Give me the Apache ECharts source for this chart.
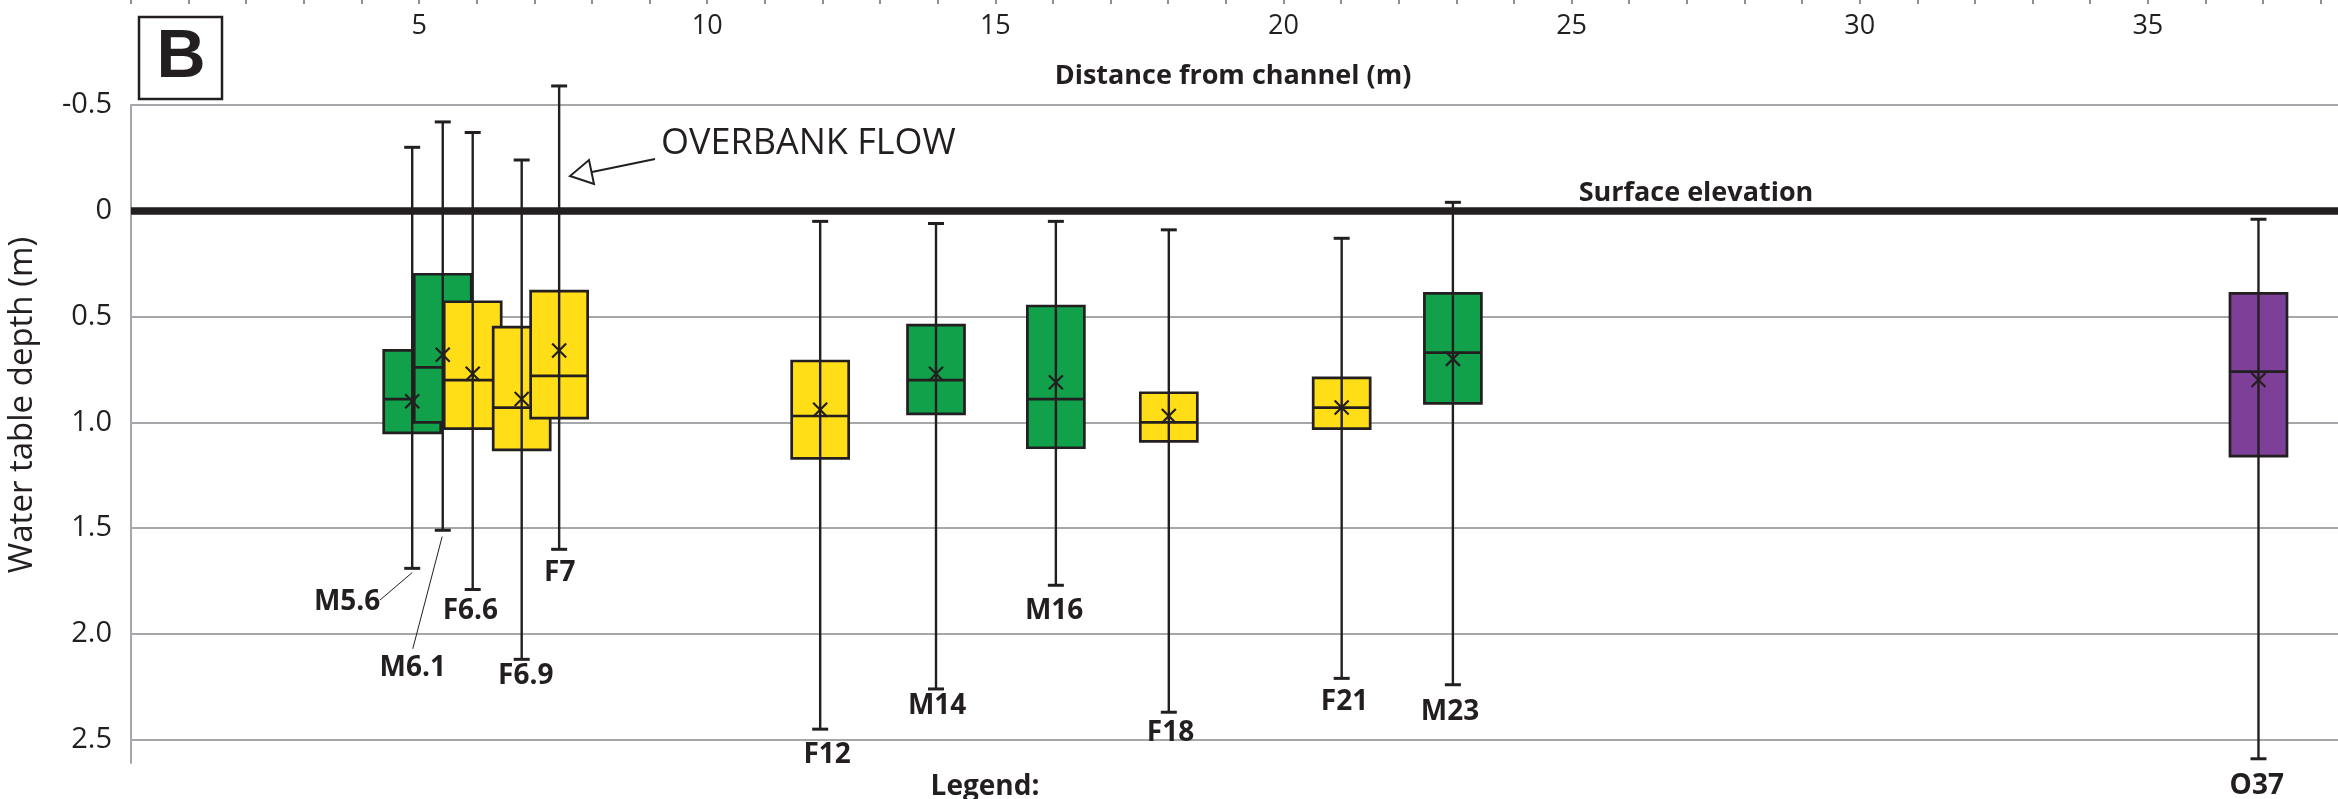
<!DOCTYPE html>
<html>
<head>
<meta charset="utf-8">
<script src="https://cdn.jsdelivr.net/npm/echarts@6/dist/echarts.min.js"></script>
<style>
  html, body { margin: 0; padding: 0; background: #fff; }
  #chart { width: 2338px; height: 799px; }
</style>
</head>
<body>
<div id="chart"></div>
<script>
// wells, named by distance from channel; plotted where they sit against the top scale
const names = ['M5.6', 'M6.1', 'F6.6', 'F6.9', 'F7', 'F12', 'M14', 'M16', 'F18', 'F21', 'M23', 'O37']
const groups = ['M', 'M', 'F', 'F', 'F', 'F', 'M', 'M', 'F', 'F', 'M', 'O']
const plotX = [4.88, 5.41, 5.93, 6.78, 7.43, 11.96, 13.97, 16.05, 18.01, 21.01, 22.94, 36.92]
// water table depth (m), positive downwards
const whiskerTop = [-0.30, -0.42, -0.37, -0.24, -0.59, 0.05, 0.06, 0.05, 0.09, 0.13, -0.04, 0.04]
const q1 = [0.66, 0.30, 0.43, 0.55, 0.38, 0.71, 0.54, 0.45, 0.86, 0.79, 0.39, 0.39]
const median = [0.89, 0.74, 0.80, 0.93, 0.78, 0.97, 0.80, 0.89, 1.00, 0.93, 0.67, 0.76]
const q3 = [1.05, 1.00, 1.03, 1.13, 0.98, 1.17, 0.96, 1.12, 1.09, 1.03, 0.91, 1.16]
const whiskerBottom = [1.69, 1.51, 1.79, 2.12, 1.60, 2.45, 2.26, 1.77, 2.37, 2.21, 2.24, 2.59]
const mean = [0.90, 0.68, 0.77, 0.89, 0.66, 0.94, 0.77, 0.81, 0.97, 0.93, 0.70, 0.80]
// where each well name sits (axis units)
const labelX = [3.75, 4.89, 5.89, 6.85, 7.44, 12.08, 13.99, 16.02, 18.04, 21.06, 22.89, 36.89]
const labelY = [1.85, 2.16, 1.89, 2.20, 1.71, 2.57, 2.34, 1.89, 2.47, 2.32, 2.37, 2.72]
// leader lines M5.6, M6.1
const leaderFrom = [[4.32, 1.84], [4.89, 2.07]]
const leaderTo = [[4.88, 1.71], [5.40, 1.54]]

const xTickLabels = [5, 10, 15, 20, 25, 30, 35]
const yTicks = [-0.5, 0, 0.5, 1, 1.5, 2, 2.5]
const yTickText = ['-0.5', '0', '0.5', '1.0', '1.5', '2.0', '2.5']

const INK = '#231f20'
const GRID = '#a5a7aa'
const FONT = '"Open Sans", "Noto Sans", sans-serif'
const groupColor = { M: '#10a14a', F: '#ffdd17', O: '#7e3f98' }
const BOX_W = 57

const boxData = plotX.map((x, i) => [x, q1[i], median[i], q3[i]])
const whiskerData = plotX.map((x, i) => [x, whiskerTop[i], whiskerBottom[i], mean[i]])
const labelData = labelX.map((x, i) => [x, labelY[i], names[i]])

const chart = echarts.init(document.getElementById('chart'))

chart.setOption({
  animation: false,
  backgroundColor: '#fff',
  grid: { left: 131, right: 0, top: 105, bottom: 36, outerBoundsMode: 'none' },
  xAxis: {
    type: 'value',
    position: 'top',
    min: 0,
    max: 38.3,
    interval: 1,
    offset: 108,
    axisLine: { show: true, onZero: false, lineStyle: { color: 'rgba(0,0,0,0)', width: 1 } },
    axisTick: { show: true, inside: true, length: 7, lineStyle: { color: '#8e9094', width: 2 } },
    axisLabel: {
      inside: true,
      margin: 16,
      showMaxLabel: false,
      color: INK,
      fontFamily: FONT,
      fontSize: 27,
      formatter: function (v) {
        return xTickLabels.indexOf(v) >= 0 ? String(v) : ''
      }
    },
    splitLine: { show: false }
  },
  yAxis: {
    type: 'value',
    inverse: true,
    min: -0.5,
    max: 2.61,
    interval: 0.5,
    axisLine: { show: true, onZero: false, lineStyle: { color: GRID, width: 2 } },
    axisTick: { show: false },
    axisLabel: {
      margin: 19,
      showMaxLabel: false,
      color: INK,
      fontFamily: FONT,
      fontSize: 29,
      formatter: function (v) {
        for (let i = 0; i < yTicks.length; i++) {
          if (Math.abs(yTicks[i] - v) < 1e-6) return yTickText[i]
        }
        return ''
      }
    },
    splitLine: { show: true, showMaxLine: false, lineStyle: { color: GRID, width: 2 } }
  },
  graphic: [
    // panel letter
    { type: 'rect', shape: { x: 139, y: 17, width: 83, height: 82 }, style: { fill: 'none', stroke: INK, lineWidth: 2.5 } },
    { type: 'text', x: 181, y: 58, style: { text: 'B', font: 'bold 68px "Liberation Sans", Arial, sans-serif', fill: INK, align: 'center', verticalAlign: 'middle' } },
    { type: 'text', x: 1233, y: 76, style: { text: 'Distance from channel (m)', font: 'bold 27px ' + FONT, fill: INK, align: 'center', verticalAlign: 'middle' } },
    { type: 'text', x: 23, y: 405, rotation: Math.PI / 2, style: { text: 'Water table depth (m)', font: '33px ' + FONT, fill: INK, align: 'center', verticalAlign: 'middle' } },
    { type: 'text', x: 661, y: 144, style: { text: 'OVERBANK FLOW', font: '36px ' + FONT, fill: INK, align: 'left', verticalAlign: 'middle' } },
    { type: 'line', shape: { x1: 655, y1: 159, x2: 592, y2: 172 }, style: { stroke: INK, lineWidth: 2 } },
    { type: 'polygon', shape: { points: [[570, 176], [594, 184], [589, 160]] }, style: { fill: '#fff', stroke: INK, lineWidth: 2 } },
    { type: 'text', x: 1696, y: 193, style: { text: 'Surface elevation', font: 'bold 27px ' + FONT, fill: INK, align: 'center', verticalAlign: 'middle' } },
    { type: 'text', x: 985, y: 787, style: { text: 'Legend:', font: 'bold 28px ' + FONT, fill: INK, align: 'center', verticalAlign: 'middle' } }
  ],
  series: [
    {
      name: 'boxes',
      type: 'custom',
      data: boxData,
      renderItem: function (params, api) {
        const x = api.value(0)
        const top = api.coord([x, api.value(1)])
        const mid = api.coord([x, api.value(2)])
        const bot = api.coord([x, api.value(3)])
        const half = BOX_W / 2
        return {
          type: 'group',
          children: [
            {
              type: 'rect',
              shape: { x: top[0] - half, y: top[1], width: BOX_W, height: bot[1] - top[1] },
              style: { fill: groupColor[groups[params.dataIndex]], stroke: INK, lineWidth: 2.7 }
            },
            {
              type: 'line',
              shape: { x1: top[0] - half, y1: mid[1], x2: top[0] + half, y2: mid[1] },
              style: { stroke: INK, lineWidth: 2.7 }
            }
          ]
        }
      }
    },
    {
      name: 'whiskers',
      type: 'custom',
      data: whiskerData,
      renderItem: function (params, api) {
        const x = api.value(0)
        const hi = api.coord([x, api.value(1)])
        const lo = api.coord([x, api.value(2)])
        const mn = api.coord([x, api.value(3)])
        const cap = 8
        const s = 7
        return {
          type: 'group',
          children: [
            { type: 'line', shape: { x1: hi[0], y1: hi[1], x2: lo[0], y2: lo[1] }, style: { stroke: INK, lineWidth: 2.4 } },
            { type: 'line', shape: { x1: hi[0] - cap, y1: hi[1], x2: hi[0] + cap, y2: hi[1] }, style: { stroke: INK, lineWidth: 3 } },
            { type: 'line', shape: { x1: lo[0] - cap, y1: lo[1], x2: lo[0] + cap, y2: lo[1] }, style: { stroke: INK, lineWidth: 3 } },
            { type: 'line', shape: { x1: mn[0] - s, y1: mn[1] - s, x2: mn[0] + s, y2: mn[1] + s }, style: { stroke: INK, lineWidth: 2.2 } },
            { type: 'line', shape: { x1: mn[0] - s, y1: mn[1] + s, x2: mn[0] + s, y2: mn[1] - s }, style: { stroke: INK, lineWidth: 2.2 } }
          ]
        }
      },
      markLine: {
        silent: true,
        symbol: ['none', 'none'],
        label: { show: false },
        lineStyle: { color: INK, width: 7.5, type: 'solid' },
        data: [{ yAxis: 0 }]
      }
    },
    {
      name: 'labels',
      type: 'custom',
      data: labelData,
      renderItem: function (params, api) {
        const p = api.coord([api.value(0), api.value(1)])
        return {
          type: 'text',
          x: p[0],
          y: p[1],
          style: { text: names[params.dataIndex], font: 'bold 28px ' + FONT, fill: INK, align: 'center', verticalAlign: 'middle' }
        }
      },
      markLine: {
        silent: true,
        symbol: ['none', 'none'],
        label: { show: false },
        lineStyle: { color: INK, width: 1, type: 'solid' },
        data: leaderFrom.map((a, i) => [{ coord: a }, { coord: leaderTo[i] }])
      }
    }
  ]
})
</script>
</body>
</html>
